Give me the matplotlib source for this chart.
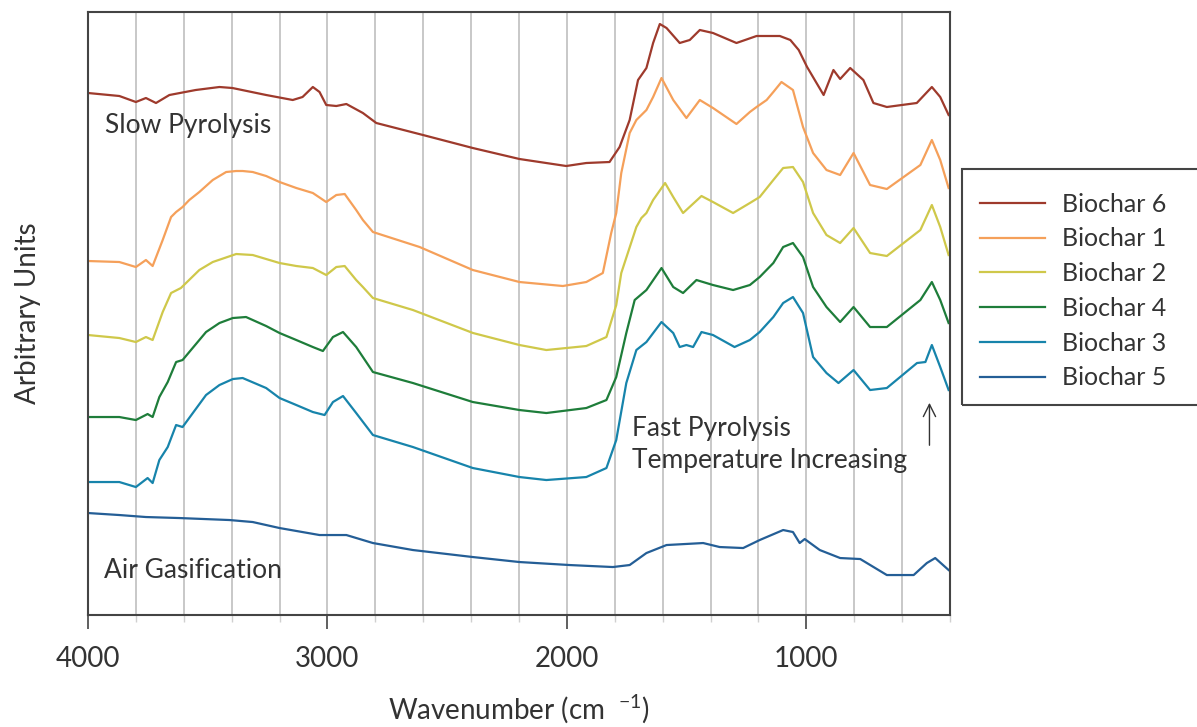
import numpy as np
import matplotlib.pyplot as plt
from matplotlib.patches import Rectangle
from matplotlib.ticker import MultipleLocator

plt.rcParams['font.family'] = ['Lato', 'DejaVu Sans']
plt.rcParams['mathtext.fontset'] = 'custom'
plt.rcParams['mathtext.rm'] = 'Lato'

# FTIR spectra, arbitrary units
wn_b6 = [4000, 3869, 3800, 3758, 3716, 3660, 3550, 3451, 3397, 3256, 3145, 3104, 3061, 3033,
         3005, 2963, 2921, 2852, 2796, 2601, 2393, 2198, 2003, 1919, 1822, 1780, 1738, 1703,
         1668, 1640, 1612, 1584, 1529, 1487, 1445, 1390, 1292, 1208, 1111, 1067, 1032, 997,
         928, 887, 859, 817, 762, 720, 664, 539, 476, 441, 406]
b6 = [522, 519, 513, 517, 512, 520, 525, 528, 527, 520, 515, 518, 528, 523,
      510, 509, 511, 502, 492, 480, 467, 456, 449, 452, 453, 468, 495, 535,
      547, 572, 591, 587, 572, 575, 585, 582, 572, 579, 579, 575, 565, 548,
      520, 545, 536, 547, 535, 512, 508, 512, 528, 518, 500]

wn_b1 = [4000, 3869, 3800, 3758, 3730, 3688, 3653, 3632, 3605, 3577, 3535, 3479, 3423, 3381,
         3354, 3312, 3256, 3200, 3130, 3061, 3005, 2963, 2928, 2880, 2852, 2810, 2615, 2393,
         2198, 2017, 1919, 1850, 1815, 1794, 1773, 1738, 1710, 1668, 1640, 1605, 1556, 1501,
         1445, 1390, 1292, 1236, 1208, 1166, 1138, 1104, 1056, 1014, 972, 916, 859, 803,
         734, 664, 524, 476, 441, 406]
b1 = [354, 353, 348, 355, 349, 375, 398, 403, 408, 415, 423, 435, 443, 444,
      444, 443, 439, 433, 427, 422, 413, 420, 421, 405, 395, 383, 368, 345,
      333, 329, 333, 342, 382, 402, 442, 482, 495, 505, 518, 537, 515, 497,
      515, 507, 491, 503, 508, 515, 523, 533, 525, 488, 462, 445, 440, 462,
      430, 426, 450, 475, 455, 427]

wn_b2 = [4000, 3869, 3800, 3758, 3730, 3688, 3653, 3612, 3535, 3479, 3381, 3312, 3200, 3130,
         3061, 3005, 2963, 2928, 2880, 2852, 2810, 2643, 2392, 2198, 2086, 1919, 1835, 1794,
         1773, 1710, 1689, 1668, 1640, 1590, 1556, 1515, 1438, 1390, 1306, 1236, 1195, 1138,
         1097, 1056, 1014, 972, 916, 859, 803, 734, 664, 524, 476, 441, 406]
b2 = [280, 277, 273, 278, 275, 303, 322, 327, 345, 353, 361, 360, 352, 349,
      347, 340, 348, 349, 335, 328, 317, 305, 282, 270, 265, 269, 278, 310,
      342, 388, 397, 402, 415, 432, 418, 402, 419, 413, 402, 412, 418, 435,
      447, 448, 433, 402, 380, 372, 387, 362, 359, 385, 410, 388, 360]

wn_b4 = [4000, 3869, 3800, 3751, 3730, 3702, 3667, 3632, 3605, 3507, 3451, 3395, 3340, 3256,
         3200, 3130, 3061, 3019, 2977, 2935, 2880, 2810, 2643, 2393, 2198, 2086, 1919, 1835,
         1794, 1752, 1717, 1668, 1605, 1556, 1515, 1459, 1390, 1306, 1236, 1195, 1138, 1097,
         1056, 1014, 972, 916, 859, 803, 734, 664, 524, 476, 441, 406]
b4 = [198, 198, 195, 201, 198, 218, 233, 253, 255, 283, 292, 297, 298, 289,
      282, 275, 268, 264, 278, 283, 268, 243, 232, 213, 205, 202, 207, 215,
      238, 282, 315, 325, 347, 328, 322, 335, 330, 325, 330, 338, 352, 368,
      372, 358, 328, 308, 293, 308, 288, 288, 315, 333, 315, 292]

wn_b3 = [4000, 3869, 3800, 3751, 3730, 3702, 3667, 3632, 3605, 3507, 3451, 3395, 3354, 3256,
         3200, 3130, 3061, 3012, 2977, 2935, 2880, 2810, 2643, 2393, 2198, 2086, 1919, 1835,
         1794, 1752, 1710, 1668, 1605, 1556, 1529, 1501, 1473, 1438, 1390, 1300, 1236, 1195,
         1138, 1097, 1056, 1014, 972, 916, 866, 803, 734, 664, 538, 503, 476, 441, 406]
b3 = [133, 133, 128, 137, 132, 155, 168, 190, 188, 220, 230, 236, 237, 227,
      217, 210, 203, 200, 213, 219, 202, 180, 168, 147, 138, 135, 138, 147,
      175, 232, 265, 273, 293, 282, 268, 270, 268, 283, 280, 268, 275, 283,
      298, 312, 318, 302, 258, 242, 232, 245, 225, 227, 252, 253, 270, 248, 225]

wn_b5 = [4000, 3869, 3758, 3619, 3409, 3312, 3200, 3033, 2921, 2810, 2643, 2393, 2198, 1989,
         1808, 1738, 1668, 1584, 1431, 1362, 1264, 1195, 1097, 1056, 1028, 1007, 944, 859,
         775, 664, 552, 497, 462, 406]
b5 = [102, 100, 98, 97, 95, 93, 87, 80, 80, 72, 65, 58, 53, 50,
      48, 50, 62, 70, 72, 68, 67, 75, 85, 83, 72, 76, 65, 57,
      56, 40, 40, 52, 57, 45]

names = ['Biochar 6', 'Biochar 1', 'Biochar 2', 'Biochar 4', 'Biochar 3', 'Biochar 5']
colors = ['#9e3a2c', '#f5a05a', '#cfc84a', '#1e7d3a', '#1784ab', '#245e96']
series = [(wn_b6, b6), (wn_b1, b1), (wn_b2, b2), (wn_b4, b4), (wn_b3, b3), (wn_b5, b5)]

txt = '#333333'
fig = plt.figure(figsize=(11.97, 7.27), dpi=100)
ax = fig.add_axes([0.0735, 0.154, 0.7202, 0.8295])

for (x, y), c, n in zip(series, colors, names):
    ax.plot(x, y, color=c, lw=1.6, label=n)

ax.set_xlim(4000, 400)
ax.set_ylim(0, 603)
ax.xaxis.set_major_locator(MultipleLocator(1000))
ax.xaxis.set_minor_locator(MultipleLocator(200))
for w in range(3800, 500, -200):
    ax.axvline(w, color='#c8c8c8', lw=1.4, zorder=0)
ax.set_yticks([])
ax.tick_params(axis='x', which='major', length=10, width=1.2, color='#444444',
               labelsize=20, labelcolor=txt, pad=12)
ax.tick_params(axis='x', which='minor', length=5, width=1.0, color='#d0d0d0')
for s in ax.spines.values():
    s.set_color('#444444')
    s.set_linewidth(1.5)

ax.set_xlabel('Wavenumber (cm  $^{-1}$)', fontsize=20, color=txt, labelpad=15)
ax.set_ylabel('Arbitrary Units', fontsize=20, color=txt, labelpad=34)

ax.text(3928, 490, 'Slow Pyrolysis', fontsize=19, color=txt, va='center')
ax.text(1730, 187, 'Fast Pyrolysis', fontsize=19, color=txt, va='center')
ax.text(1730, 155, 'Temperature Increasing', fontsize=19, color=txt, va='center')
ax.text(3932, 45, 'Air Gasification', fontsize=19, color=txt, va='center')
ax.annotate('', xy=(486, 215), xytext=(486, 167),
            arrowprops=dict(arrowstyle='->', color='#333333', lw=1.0,
                            mutation_scale=22))

# legend box runs off the right edge of the figure, as in the original
fig.patches.append(Rectangle((0.8037, 0.443), 0.25, 0.3245, transform=fig.transFigure,
                             fill=False, edgecolor='#444444', lw=1.5))
leg = fig.legend(loc='upper left', bbox_to_anchor=(0.7987, 0.7675), fontsize=18,
                 frameon=False, handlelength=2.6, handletextpad=0.7,
                 labelspacing=0.47, borderpad=0.94, borderaxespad=0, labelcolor=txt)

fig.savefig('out.png', dpi=100)
